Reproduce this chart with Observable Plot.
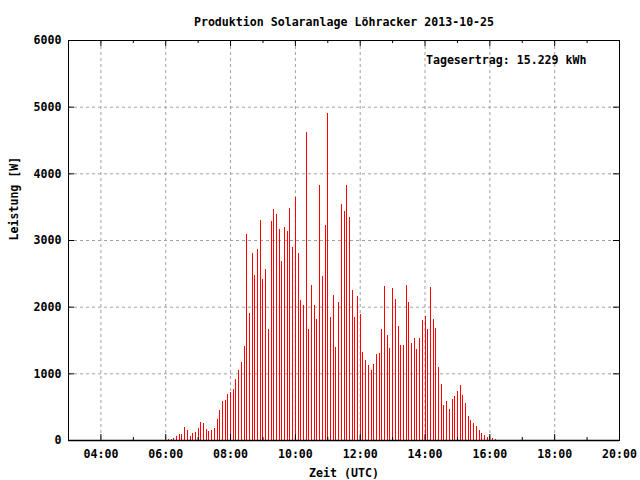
<!DOCTYPE html>
<html><head><meta charset="utf-8">
<script src="https://cdn.jsdelivr.net/npm/d3@7"></script>
<script src="https://cdn.jsdelivr.net/npm/@observablehq/plot@0.6"></script>
<style>body{margin:0;background:#fff} svg{display:block}</style>
</head><body><div id="chart"></div>
<script>
const titleText = "Produktion Solaranlage Löhracker 2013-10-25";
const yieldText = "Tagesertrag: 15.229 kWh";
const xLabel = "Zeit (UTC)";
const yLabel = "Leistung [W]";

const times = [
  "06:05","06:10","06:15","06:20","06:25","06:30","06:35","06:40","06:45","06:50","06:55",
  "07:00","07:05","07:10","07:15","07:20","07:25","07:30","07:35","07:40","07:45","07:50","07:55",
  "08:00","08:05","08:10","08:15","08:20","08:25","08:30","08:35","08:40","08:45","08:50","08:55",
  "09:00","09:05","09:10","09:15","09:20","09:25","09:30","09:35","09:40","09:45","09:50","09:55",
  "10:00","10:05","10:10","10:15","10:20","10:25","10:30","10:35","10:40","10:45","10:50","10:55",
  "11:00","11:05","11:10","11:15","11:20","11:25","11:30","11:35","11:40","11:45","11:50","11:55",
  "12:00","12:05","12:10","12:15","12:20","12:25","12:30","12:35","12:40","12:45","12:50","12:55",
  "13:00","13:05","13:10","13:15","13:20","13:25","13:30","13:35","13:40","13:45","13:50","13:55",
  "14:00","14:05","14:10","14:15","14:20","14:25","14:30","14:35","14:40","14:45","14:50","14:55",
  "15:00","15:05","15:10","15:15","15:20","15:25","15:30","15:35","15:40","15:45","15:50","15:55",
  "16:00","16:05","16:10"
];
const watts = [
  15,15,30,60,90,90,195,150,60,105,120,180,270,255,165,135,150,180,315,450,585,600,690,720,765,915,1050,1170,1410,
  3090,1905,2805,2475,2865,3300,2415,2565,1665,3285,3465,3390,3165,2685,3195,3135,3480,2895,3645,2805,2100,2025,4620,1665,
  2325,2025,1815,3825,2460,3225,4905,1845,2175,1395,2070,3540,3435,3825,3345,2250,1845,2160,1895,1320,1200,1125,
  1050,1140,1290,1305,1665,2310,1575,1380,2280,2115,1710,1425,1425,2325,2070,1455,1530,1365,1530,1800,1860,1665,2295,1815,1680,1095,
  840,525,585,465,615,660,735,825,675,555,360,300,255,210,150,105,75,45,60,30,15
];
const xMajorLabels = ["04:00","06:00","08:00","10:00","12:00","14:00","16:00","18:00","20:00"];
const xMinorLabels = ["05:00","07:00","09:00","11:00","13:00","15:00","17:00","19:00"];
const yTicks = [0,1000,2000,3000,4000,5000,6000];
const xStart = "03:00", xEnd = "20:00";

const toMin = s => { const [h, m] = s.split(":").map(Number); return h * 60 + m; };
const data = times.map((t, i) => ({t: toMin(t), w: watts[i]}));
const xMajor = xMajorLabels.map(s => ({v: toMin(s), label: s}));
const xMinor = xMinorLabels.map(toMin);

const W = 640, H = 480, mL = 68, mR = 21, mT = 40, mB = 40;
const fw = W - mL - mR, fh = H - mT - mB;
const gridStyle = {stroke: "#a0a0a0", strokeWidth: 1, strokeDasharray: "3,3"};

const chart = Plot.plot({
  width: W, height: H,
  marginLeft: mL, marginRight: mR, marginTop: mT, marginBottom: mB,
  style: {fontFamily: "'DejaVu Sans Mono', monospace", fontSize: "11.6px", fontWeight: "bold", background: "white", color: "black"},
  x: {domain: [toMin(xStart), toMin(xEnd)], axis: null},
  y: {domain: [0, 6000], axis: null},
  marks: [
    Plot.ruleX(xMajor.filter(d => d.label !== xEnd), {x: "v", ...gridStyle}),
    Plot.ruleY(yTicks.filter(v => v > 0 && v < 6000), {y: d => d, ...gridStyle}),
    Plot.ruleX(data, {x: "t", y1: 0, y2: "w", stroke: "#ff0000", strokeWidth: 1, shapeRendering: "crispEdges"}),
    // ticks (inward, mirrored)
    Plot.ruleX(xMajor, {x: "v", insetTop: fh - 6, stroke: "black"}),
    Plot.ruleX(xMajor, {x: "v", insetBottom: fh - 6, stroke: "black"}),
    Plot.ruleX(xMinor, {x: d => d, insetTop: fh - 3, stroke: "black"}),
    Plot.ruleX(xMinor, {x: d => d, insetBottom: fh - 3, stroke: "black"}),
    Plot.ruleY(yTicks, {y: d => d, insetRight: fw - 6, stroke: "black"}),
    Plot.ruleY(yTicks, {y: d => d, insetLeft: fw - 6, stroke: "black"}),
    Plot.ruleY([0], {y: d => d, stroke: "black", strokeWidth: 1.5}),
    Plot.frame({stroke: "black"}),
    // tick labels
    Plot.text(xMajor, {x: "v", text: "label", frameAnchor: "bottom", dy: 17}),
    Plot.text(yTicks, {y: d => d, text: d => String(d), frameAnchor: "left", dx: -7, textAnchor: "end"}),
    // titles
    Plot.text([titleText], {text: d => d, frameAnchor: "top", dy: -23}),
    Plot.text([yieldText], {text: d => d, frameAnchor: "top-right", dx: -33, dy: 15, textAnchor: "end"}),
    Plot.text([xLabel], {text: d => d, frameAnchor: "bottom", dy: 36}),
    Plot.text([yLabel], {text: d => d, frameAnchor: "left", dx: -54, rotate: -90})
  ]
});
document.getElementById("chart").appendChild(chart);
</script>
</body></html>
